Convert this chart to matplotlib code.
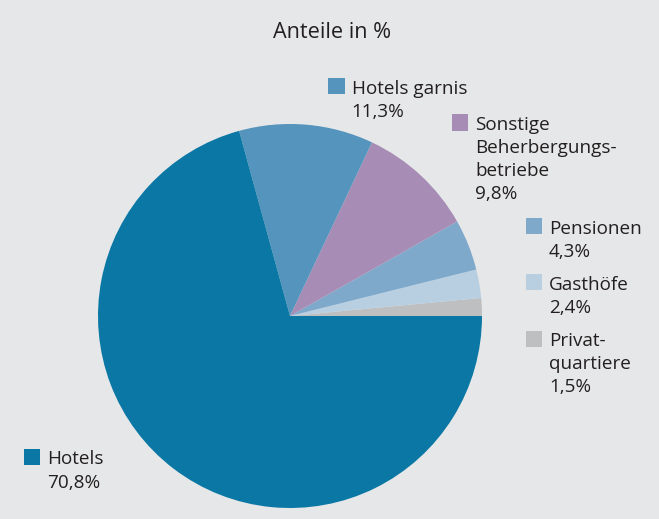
import matplotlib
matplotlib.use("Agg")
import matplotlib.pyplot as plt
from matplotlib.patches import Rectangle

plt.rcParams['font.family'] = ['Open Sans', 'DejaVu Sans']

title = "Anteile in %"
categories = ["Privat-\nquartiere", "Gasthöfe", "Pensionen",
              "Sonstige\nBeherbergungs-\nbetriebe", "Hotels garnis", "Hotels"]
values = [1.5, 2.4, 4.3, 9.8, 11.3, 70.8]
value_labels = ["1,5%", "2,4%", "4,3%", "9,8%", "11,3%", "70,8%"]
colors = ["#bebfc1", "#b8cfe2", "#7fa9cb", "#a78db6", "#5594bd", "#0a77a5"]

# label anchor (left edge of square, top of square) in pixel coords from top-left
label_pos = [(525.5, 330.5), (525.5, 274), (525.5, 218), (451.5, 114.3), (328.3, 78), (24, 449)]

W, H = 659, 519
bg = "#e6e7e8"
fig = plt.figure(figsize=(W / 100, H / 100), dpi=100, facecolor=bg)
ax = fig.add_axes([0, 0, 1, 1])
ax.set_facecolor(bg)

cx, cy, r = 290, H - 316, 192
ax.pie(values, colors=colors, startangle=0, counterclock=True,
       center=(cx, cy), radius=r, wedgeprops=dict(linewidth=0),
       frame=True)
ax.set_xlim(0, W)
ax.set_ylim(0, H)
ax.set_aspect('equal')
ax.axis('off')

txtcol = "#231f20"
ax.text(332, H - 33, title, ha='center', va='center', fontsize=15.6, color=txtcol)

fs = 13.6
sq = 16.3
pitch = 23.2
for cat, vl, col, (x, y) in zip(categories, value_labels, colors, label_pos):
    ax.add_patch(Rectangle((x, H - y - sq), sq, sq, facecolor=col, edgecolor='none'))
    lines = cat.split("\n") + [vl]
    for i, line in enumerate(lines):
        ax.text(x + 23.5, H - (y + 15.5 + i * pitch), line, ha='left', va='baseline',
                fontsize=fs, color=txtcol)

fig.savefig("out.png", dpi=100, facecolor=bg)
